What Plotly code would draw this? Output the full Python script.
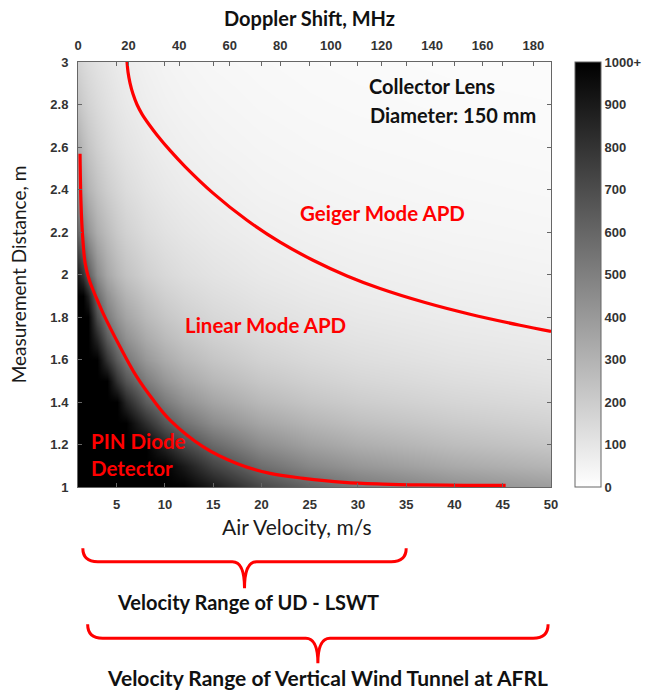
import plotly.graph_objects as go

# ---- data -------------------------------------------------------------
velocity = [1, 1.5, 2, 3, 4, 5, 6, 8, 10, 12, 15, 20, 25, 30, 40, 50]          # m/s
distance = [1.0, 1.1, 1.2, 1.3, 1.4, 1.5, 1.6, 1.7, 1.8, 1.9, 2.0, 2.2, 2.4, 2.6, 2.8, 3.0]  # m

# photon counts per burst (saturates at 1000+), one row per distance
counts = [
    [1000, 1000, 1000, 1000, 1000, 1000, 1000, 1000, 1000, 1000, 900, 720, 610, 530, 440, 386],
    [1000, 1000, 1000, 1000, 1000, 1000, 1000, 1000, 1000, 900, 740, 570, 470, 410, 335, 290],
    [1000, 1000, 1000, 1000, 1000, 1000, 1000, 1000, 850, 720, 590, 450, 370, 320, 260, 223],
    [1000, 1000, 1000, 1000, 1000, 1000, 1000, 820, 660, 555, 450, 350, 290, 250, 205, 176],
    [1000, 1000, 1000, 1000, 1000, 1000, 850, 640, 520, 435, 355, 275, 228, 198, 163, 141],
    [1000, 1000, 1000, 1000, 1000, 800, 670, 510, 410, 345, 282, 220, 184, 160, 132, 114],
    [1000, 1000, 1000, 1000, 800, 640, 535, 405, 330, 278, 228, 178, 150, 131, 108, 94],
    [1000, 1000, 1000, 850, 640, 515, 430, 330, 268, 226, 186, 147, 124, 109, 90, 79],
    [1000, 1000, 1000, 700, 520, 420, 355, 272, 222, 188, 155, 123, 104, 91, 76, 66],
    [1000, 1000, 880, 580, 435, 352, 296, 227, 185, 158, 131, 104, 87, 77, 64, 56],
    [900, 800, 640, 454, 346, 281, 238, 184, 152, 130, 109, 87, 74, 66, 55, 48],
    [600, 500, 420, 320, 260, 211, 179, 138, 114, 98, 82, 65, 56, 49, 41, 36],
    [430, 360, 300, 240, 195, 163, 138, 107, 88, 75, 63, 50, 43, 38, 32, 28],
    [320, 270, 230, 185, 150, 125, 108, 84, 69, 59, 49, 40, 34, 30, 25, 22],
    [230, 200, 175, 145, 120, 100, 87, 67, 55, 47, 40, 32, 27, 24, 20, 18],
    [170, 150, 135, 115, 98, 82, 71, 55, 45, 39, 32, 26, 22, 19, 16, 14],
]

# detector regime boundaries
geiger_v = [6.08, 6.18, 6.39, 6.70, 7.11, 7.63, 8.36, 9.18, 10.53, 12.09, 14.99, 18.51,
            21.93, 25.35, 28.87, 32.29, 36.95, 41.61, 46.79, 50.0]
geiger_d = [3.0, 2.953, 2.901, 2.849, 2.800, 2.755, 2.706, 2.657, 2.584, 2.508, 2.383, 2.255,
            2.152, 2.067, 1.993, 1.934, 1.868, 1.813, 1.761, 1.732]

linear_v = [1.21, 1.3, 1.45, 1.75, 2.2, 2.9, 3.6, 5.35, 7.08, 8.8, 10.53, 13.98, 17.44, 20.89,
            24.34, 28.56, 32.57, 36.5, 41.0, 45.3]
linear_d = [2.568, 2.35, 2.2, 2.05, 1.97, 1.89, 1.817, 1.66, 1.519, 1.409, 1.315, 1.189, 1.111, 1.064,
            1.041, 1.022, 1.014, 1.01, 1.008, 1.008]

velocity_ticks = [5, 10, 15, 20, 25, 30, 35, 40, 45, 50]
distance_ticks = [1, 1.2, 1.4, 1.6, 1.8, 2, 2.2, 2.4, 2.6, 2.8, 3]
doppler_ticks = [0, 20, 40, 60, 80, 100, 120, 140, 160, 180]
doppler_range = [0, 187]
count_ticks = [0, 100, 200, 300, 400, 500, 600, 700, 800, 900, 1000]
count_labels = ["0", "100", "200", "300", "400", "500", "600", "700", "800", "900", "1000+"]

ud_lswt_range = [1.5, 35.0]
afrl_range = [2.0, 49.7]

# ---- layout geometry (pixels) ----------------------------------------
W, H = 652, 692
L, R, T, B = 78, 551, 62, 487


def py(y):
    """page pixel row -> paper y"""
    return (B - y) / (B - T)


def px(x):
    return (x - L) / (R - L)


TICK_FONT = dict(family="Liberation Sans, Arial, sans-serif", size=13, color="#333333", weight="bold")
LABEL_FONT = dict(family="Lato, sans-serif", size=20, color="#1a1a1a")
RED_FONT = dict(family="Lato, sans-serif", size=20.5, color="#ff0000", weight="bold")
BLACK_BOLD = dict(family="Lato, sans-serif", size=20, color="#111111", weight="bold")

fig = go.Figure()

fig.add_trace(go.Heatmap(
    x=velocity, y=distance, z=counts,
    zmin=0, zmax=1000, zsmooth="best",
    colorscale=[[0, "#ffffff"], [1, "#000000"]],
    hoverinfo="skip",
    colorbar=dict(
        x=px(575), xanchor="left", xpad=0, ypad=0,
        y=0.5, yanchor="middle",
        len=B - T, lenmode="pixels",
        thickness=26, thicknessmode="pixels",
        outlinewidth=1, outlinecolor="#666666",
        tickvals=count_ticks, ticktext=count_labels,
        ticks="", tickfont=TICK_FONT,
    ),
))

for vv, dd in ((geiger_v, geiger_d), (linear_v, linear_d)):
    fig.add_trace(go.Scatter(
        x=vv, y=dd, mode="lines",
        line=dict(color="#ff0000", width=3.2, shape="spline", smoothing=1.0),
        hoverinfo="skip", showlegend=False,
    ))

# invisible carrier for the Doppler-shift axis
fig.add_trace(go.Scatter(
    x=doppler_ticks, y=[2] * len(doppler_ticks), xaxis="x2",
    mode="markers", marker=dict(opacity=0), hoverinfo="skip", showlegend=False,
))

axis_common = dict(
    showgrid=False, zeroline=False, showline=True, linecolor="#666666", linewidth=1,
    ticks="inside", ticklen=4, tickcolor="#666666", tickfont=TICK_FONT,
)

fig.update_layout(
    width=W, height=H,
    margin=dict(l=L, r=W - R, t=T, b=H - B, pad=0),
    paper_bgcolor="white", plot_bgcolor="white",
    showlegend=False,
    xaxis=dict(axis_common, range=[1, 50], tickvals=velocity_ticks, mirror="ticks",
               ticklabelstandoff=5),
    xaxis2=dict(overlaying="x", side="top", range=doppler_range, tickvals=doppler_ticks,
                showgrid=False, zeroline=False, showline=False,
                ticks="inside", ticklen=4, tickcolor="#666666", tickfont=TICK_FONT,
                ticklabelstandoff=8),
    yaxis=dict(axis_common, range=[1, 3], tickvals=distance_ticks, mirror="ticks",
               ticklabelstandoff=6,
               title=dict(text="Measurement Distance, m", font=dict(LABEL_FONT, size=19),
                          standoff=18)),
)

annotations = [
    dict(text="Air Velocity, m/s", xref="paper", yref="paper", x=px(296), y=py(526),
         font=dict(LABEL_FONT, size=21), showarrow=False, xanchor="center", yanchor="middle"),
    dict(text="Doppler Shift, MHz", xref="paper", yref="paper", x=px(309), y=py(18),
         font=dict(family="Lato, sans-serif", size=20, color="#111111", weight="bold"),
         showarrow=False, xanchor="center", yanchor="middle"),
    dict(text="Geiger Mode APD", x=23.8, y=2.289, font=RED_FONT),
    dict(text="Linear Mode APD", x=11.9, y=1.762, font=RED_FONT),
    dict(text="PIN Diode", x=2.14, y=1.216, font=RED_FONT),
    dict(text="Detector", x=2.14, y=1.091, font=RED_FONT),
    dict(text="Collector Lens", x=30.9, y=2.888, font=BLACK_BOLD),
    dict(text="Diameter: 150 mm", x=31.0, y=2.752, font=BLACK_BOLD),
]
for a in annotations[2:]:
    a.update(xref="x", yref="y", showarrow=False, xanchor="left", yanchor="middle")


def brace(x0, x1, y_end, y_bar, y_tip, r=1.55, t=1.25):
    xm = (x0 + x1) / 2
    return (f"M {x0},{y_end} Q {x0},{y_bar} {x0 + r},{y_bar} "
            f"L {xm - t},{y_bar} Q {xm},{y_bar} {xm},{y_tip} "
            f"Q {xm},{y_bar} {xm + t},{y_bar} "
            f"L {x1 - r},{y_bar} Q {x1},{y_bar} {x1},{y_end}")


shapes = [
    dict(type="path", xref="x", yref="paper",
         path=brace(ud_lswt_range[0], ud_lswt_range[1], py(548.3), py(561.7), py(588.3)),
         line=dict(color="#ff0000", width=3)),
    dict(type="path", xref="x", yref="paper",
         path=brace(afrl_range[0], afrl_range[1], py(624.3), py(638.3), py(663.3)),
         line=dict(color="#ff0000", width=3)),
]

annotations += [
    dict(text="Velocity Range of UD - LSWT", xref="x", yref="paper",
         x=sum(ud_lswt_range) / 2 + 0.4, y=py(601.7), font=BLACK_BOLD,
         showarrow=False, xanchor="center", yanchor="middle"),
    dict(text="Velocity Range of Vertical Wind Tunnel at AFRL", xref="x", yref="paper",
         x=sum(afrl_range) / 2 + 1.0, y=py(677), font=dict(BLACK_BOLD, size=21),
         showarrow=False, xanchor="center", yanchor="middle"),
]

fig.update_layout(annotations=annotations, shapes=shapes)

fig.write_html("out.html")
